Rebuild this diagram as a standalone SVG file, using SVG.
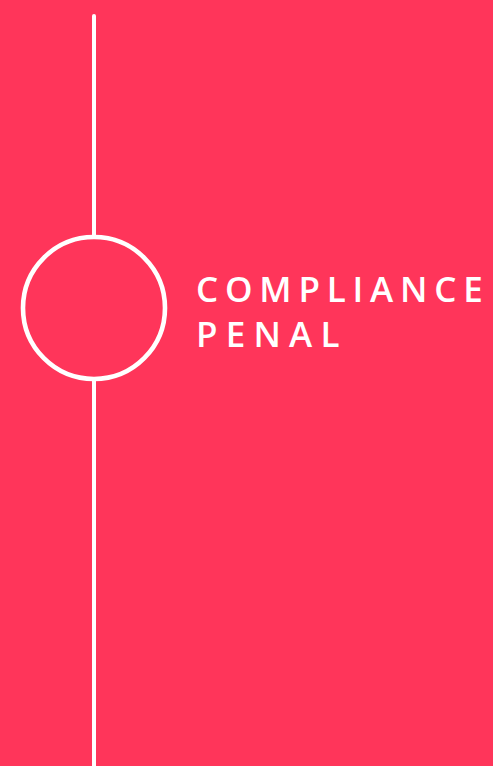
<svg xmlns="http://www.w3.org/2000/svg" width="493" height="766" viewBox="0 0 493 766">
<style>
.ln{stroke:#fff;stroke-width:4;fill:none;stroke-linecap:round}
.c{stroke:#fff;stroke-width:4.6;fill:none}
.t{font-family:"Open Sans","DejaVu Sans",sans-serif;font-size:35px;font-weight:600;fill:#fff}
</style>
<rect width="493" height="766" fill="#FF355A"/>
<g id="connectors">
<line class="ln" x1="94" y1="16" x2="94" y2="237"/>
<line class="ln" x1="94" y1="379" x2="94" y2="770"/>
</g>
<g id="node-compliance">
<circle class="c" cx="94" cy="308" r="71"/>
<text class="t" x="196" y="302" letter-spacing="6.8">COMPLIANCE</text>
<text class="t" x="196" y="347" letter-spacing="8.2">PENAL</text>
</g>
</svg>
